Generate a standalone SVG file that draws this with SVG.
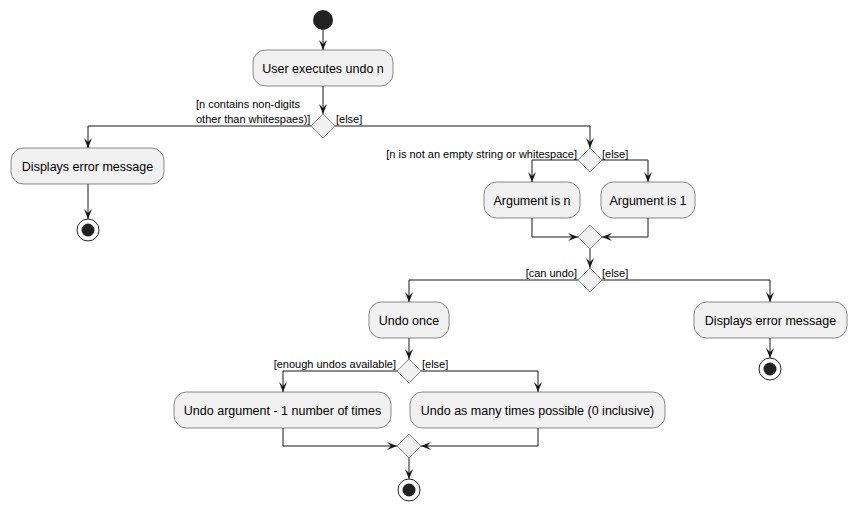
<svg xmlns="http://www.w3.org/2000/svg" width="857" height="510" viewBox="0 0 857 510">
<style>
.box{fill:#F1F1F1;stroke:#181818;stroke-width:0.5}
.dia{fill:#F1F1F1;stroke:#181818;stroke-width:0.5}
.t{font-family:"Liberation Sans",Arial,sans-serif;font-size:12.5px;fill:#000;text-anchor:middle}
.l{font-family:"Liberation Sans",Arial,sans-serif;font-size:11px;fill:#000}
.c{fill:none;stroke:#181818;stroke-width:1}
</style>
<defs>
<marker id="ah" viewBox="0 0 10 10" refX="10" refY="5" markerWidth="10" markerHeight="10" markerUnits="userSpaceOnUse" orient="auto">
<path d="M0,1 L10,5 L0,9 L4,5 Z" fill="#181818"/>
</marker>
</defs>
<rect width="857" height="510" fill="#FFFFFF"/>
<g id="connectors">
<path class="c" marker-end="url(#ah)" d="M323,30 L323,50"/>
<path class="c" marker-end="url(#ah)" d="M323,86 L323,114"/>
<path class="c" marker-end="url(#ah)" d="M311,126 L88,126 L88,148"/>
<path class="c" marker-end="url(#ah)" d="M335,126 L590,126 L590,148"/>
<path class="c" marker-end="url(#ah)" d="M88,184 L88,219"/>
<path class="c" marker-end="url(#ah)" d="M578,160 L532,160 L532,182"/>
<path class="c" marker-end="url(#ah)" d="M602,160 L648,160 L648,182"/>
<path class="c" marker-end="url(#ah)" d="M532,218 L532,237 L578,237"/>
<path class="c" marker-end="url(#ah)" d="M648,218 L648,237 L602,237"/>
<path class="c" marker-end="url(#ah)" d="M590,249 L590,268"/>
<path class="c" marker-end="url(#ah)" d="M578,280 L409,280 L409,302"/>
<path class="c" marker-end="url(#ah)" d="M602,280 L770,280 L770,302"/>
<path class="c" marker-end="url(#ah)" d="M770,338 L770,358"/>
<path class="c" marker-end="url(#ah)" d="M409,338 L409,359"/>
<path class="c" marker-end="url(#ah)" d="M397,371 L283,371 L283,392"/>
<path class="c" marker-end="url(#ah)" d="M421,371 L538,371 L538,392"/>
<path class="c" marker-end="url(#ah)" d="M283,428 L283,446 L397,446"/>
<path class="c" marker-end="url(#ah)" d="M538,428 L538,446 L421,446"/>
<path class="c" marker-end="url(#ah)" d="M409,458 L409,479"/>
<text class="l" x="196" y="108">[n contains non-digits</text>
<text class="l" x="196" y="123">other than whitespaes)]</text>
<text class="l" x="336" y="123">[else]</text>
<text class="l" x="577" y="158" text-anchor="end">[n is not an empty string or whitespace]</text>
<text class="l" x="602" y="158">[else]</text>
<text class="l" x="577" y="277" text-anchor="end">[can undo]</text>
<text class="l" x="602" y="277">[else]</text>
<text class="l" x="396" y="368" text-anchor="end">[enough undos available]</text>
<text class="l" x="422" y="368">[else]</text>
</g>
<g id="start"><circle cx="323" cy="20" r="10" fill="#222222"/></g>
<g id="userExecutes"><rect class="box" x="253" y="50" width="140" height="36" rx="12.5"/><text class="t" x="323" y="72.5">User executes undo n</text></g>
<g id="d1"><polygon class="dia" points="323,114 335,126 323,138 311,126"/></g>
<g id="errLeft"><rect class="box" x="11" y="148" width="153" height="36" rx="12.5"/><text class="t" x="87.5" y="170.5">Displays error message</text></g>
<g id="endLeft"><circle cx="88" cy="230" r="11" fill="none" stroke="#222222" stroke-width="1"/><circle cx="88" cy="230" r="6.5" fill="#222222"/></g>
<g id="d2"><polygon class="dia" points="590,148 602,160 590,172 578,160"/></g>
<g id="argN"><rect class="box" x="484" y="182" width="96" height="36" rx="12.5"/><text class="t" x="532" y="204.5">Argument is n</text></g>
<g id="arg1"><rect class="box" x="601" y="182" width="94" height="36" rx="12.5"/><text class="t" x="648" y="204.5">Argument is 1</text></g>
<g id="m2"><polygon class="dia" points="590,225 602,237 590,249 578,237"/></g>
<g id="d3"><polygon class="dia" points="590,268 602,280 590,292 578,280"/></g>
<g id="undoOnce"><rect class="box" x="369" y="302" width="80" height="36" rx="12.5"/><text class="t" x="409" y="324.5">Undo once</text></g>
<g id="errRight"><rect class="box" x="694" y="302" width="153" height="36" rx="12.5"/><text class="t" x="770.5" y="324.5">Displays error message</text></g>
<g id="endRight"><circle cx="770" cy="369" r="11" fill="none" stroke="#222222" stroke-width="1"/><circle cx="770" cy="369" r="6.5" fill="#222222"/></g>
<g id="d4"><polygon class="dia" points="409,359 421,371 409,383 397,371"/></g>
<g id="undoArg"><rect class="box" x="174" y="392" width="217" height="36" rx="12.5"/><text class="t" x="282.5" y="414.5">Undo argument - 1 number of times</text></g>
<g id="undoMany"><rect class="box" x="410" y="392" width="255" height="36" rx="12.5"/><text class="t" x="537.5" y="414.5">Undo as many times possible (0 inclusive)</text></g>
<g id="m4"><polygon class="dia" points="409,434 421,446 409,458 397,446"/></g>
<g id="endBottom"><circle cx="409" cy="490" r="11" fill="none" stroke="#222222" stroke-width="1"/><circle cx="409" cy="490" r="6.5" fill="#222222"/></g>
</svg>
